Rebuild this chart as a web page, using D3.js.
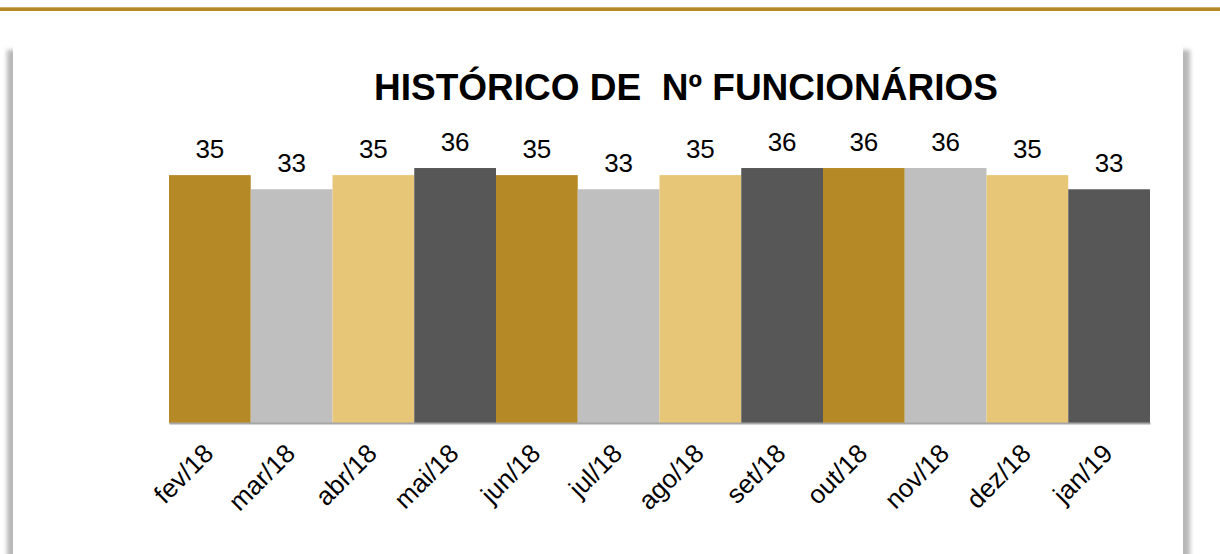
<!DOCTYPE html>
<html>
<head>
<meta charset="utf-8">
<script src="https://cdn.jsdelivr.net/npm/d3@7"></script>
<style>
  body { margin: 0; background: #fff; }
  svg { display: block; font-family: "Liberation Sans", Arial, sans-serif; }
</style>
</head>
<body>
<div id="container"></div>
<script>
/* DATA */
const months = ["fev/18", "mar/18", "abr/18", "mai/18", "jun/18", "jul/18",
                "ago/18", "set/18", "out/18", "nov/18", "dez/18", "jan/19"];
const employees = [35, 33, 35, 36, 35, 33, 35, 36, 36, 36, 35, 33];
const title = "HISTÓRICO DE  Nº FUNCIONÁRIOS";

/* CONSTANTS */
const width = 1220;
const height = 554;
const palette = ["#B58A26", "#BFBFBF", "#E8C677", "#575757"];

const svg = d3.select("#container")
  .append("svg")
  .attr("width", width)
  .attr("height", height);

const defs = svg.append("defs");
defs.append("filter")
  .attr("id", "blur")
  .attr("x", "-5%").attr("y", "-5%").attr("width", "110%").attr("height", "110%")
  .append("feGaussianBlur")
  .attr("stdDeviation", 2.2);

/* BACKGROUND */
svg.append("rect")
  .attr("x", 0).attr("y", 7).attr("width", width).attr("height", 4)
  .attr("fill", "#B58A26");
svg.append("rect")
  .attr("x", 0).attr("y", 7).attr("width", width).attr("height", 1)
  .attr("fill", "#CFAE66");

// card with side shadows
svg.append("rect")
  .attr("x", 7).attr("y", 50).attr("width", 1183).attr("height", 560)
  .attr("fill", "#b8b8b8")
  .attr("filter", "url(#blur)");
svg.append("rect")
  .attr("x", 13).attr("y", 20).attr("width", 1170).attr("height", 600)
  .attr("fill", "#fff");

/* SCALES */
const xScale = d3.scaleBand()
  .domain(months)
  .range([169, 1150])
  .padding(0);

const yScale = d3.scaleLinear()
  .domain([0, 40])
  .range([423, 139.7]);

const colorScale = d3.scaleOrdinal()
  .domain(months)
  .range(palette);

/* TITLE */
svg.append("text")
  .attr("x", 686)
  .attr("y", 100)
  .attr("text-anchor", "middle")
  .style("white-space", "pre")
  .attr("font-size", "37px")
  .attr("font-weight", "bold")
  .attr("fill", "#000")
  .text(title);

/* BARS */
svg.selectAll(".bar")
  .data(months)
  .join("rect")
  .attr("class", "bar")
  .attr("x", d => xScale(d))
  .attr("y", (d, i) => yScale(employees[i]))
  .attr("width", xScale.bandwidth())
  .attr("height", (d, i) => yScale(0) - yScale(employees[i]))
  .attr("fill", d => colorScale(d));

/* VALUE LABELS */
svg.selectAll(".value")
  .data(months)
  .join("text")
  .attr("class", "value")
  .attr("x", d => xScale(d) + xScale.bandwidth() / 2)
  .attr("y", (d, i) => yScale(employees[i]) - 17)
  .attr("text-anchor", "middle")
  .attr("font-size", "26px")
  .attr("fill", "#000")
  .text((d, i) => employees[i]);

/* X AXIS */
const xAxis = d3.axisBottom(xScale).tickSize(0).tickPadding(0);
const gx = svg.append("g")
  .attr("transform", `translate(0, ${yScale(0)})`)
  .call(xAxis);
gx.select(".domain")
  .attr("stroke", "#A6A6A6")
  .attr("stroke-width", 2);
gx.selectAll(".tick text")
  .attr("font-size", "26px")
  .attr("font-family", "Liberation Sans, Arial, sans-serif")
  .attr("fill", "#000")
  .attr("text-anchor", "end")
  .attr("dy", 0)
  .attr("transform", "translate(5, 32) rotate(-45)");
</script>
</body>
</html>
